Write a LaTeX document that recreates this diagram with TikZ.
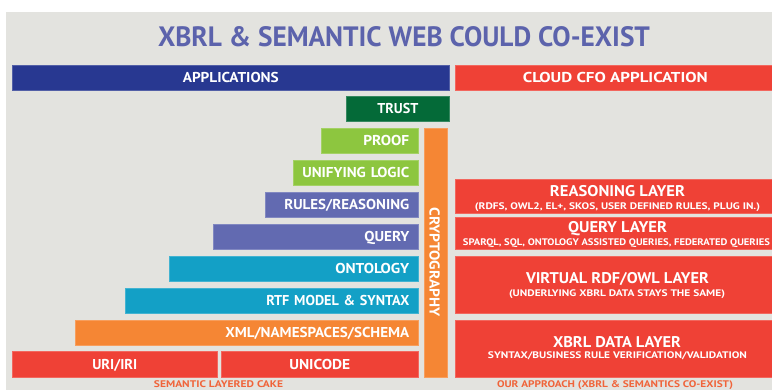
\documentclass[tikz,border=0pt]{standalone}
\usepackage{fontspec}
\usepackage{graphicx}
\setmainfont{PT Sans}
\newfontfamily\lblfont{PT Sans Bold}
\definecolor{bgc}{HTML}{E3E3DF}
\definecolor{ttlc}{HTML}{5C63AC}
\definecolor{navy}{HTML}{283891}
\definecolor{redc}{HTML}{EF4136}
\definecolor{dgreen}{HTML}{046A38}
\definecolor{lgreen}{HTML}{8DC63F}
\definecolor{purp}{HTML}{626AB1}
\definecolor{cyanc}{HTML}{13A0C6}
\definecolor{orng}{HTML}{F58634}
\definecolor{capc}{HTML}{F0643A}
\newcommand\fw[2]{\resizebox{#1}{\height}{#2}}
\begin{document}
\begin{tikzpicture}[x=1pt,y=-1pt,
  lay/.style={fill=#1, draw=#1!80!white, line width=0.6pt, text=white,
    font={\lblfont\fontsize{14.3}{16}\selectfont}, inner sep=0pt,
    text height=10pt, text depth=0pt,
    anchor=north west, minimum height=25pt},
  rl/.style={inner xsep=9pt, align=right, text width=#1},
  rtitle/.style={text=white, font={\lblfont\fontsize{15.5}{17}\selectfont}, inner sep=0pt,
    text height=11pt, text depth=0pt},
  rsub/.style={text=white, font={\lblfont\fontsize{9.5}{11}\selectfont}, inner sep=0pt,
    text height=6.7pt, text depth=0pt},
  capt/.style={text=capc, font={\lblfont\fontsize{9.6}{11}\selectfont}, inner sep=0pt,
    text height=6.8pt, text depth=0pt}
]
\useasboundingbox (0,0) rectangle (772,390);
\fill[white] (0,0) rectangle (772,390);
\fill[bgc] (6,12) rectangle (772,390);
\node[text=ttlc, font={\lblfont\fontsize{28}{30}\selectfont}, inner sep=0pt,
  text height=20pt, text depth=0pt] (title) at (404,37) {\fw{492pt}{XBRL \& SEMANTIC WEB COULD CO-EXIST}};
% left stack
\node[lay=navy, minimum width=437pt] (app) at (12,65) {\fw{96pt}{APPLICATIONS}};
\node[lay=redc, minimum width=320pt] (cfo) at (455,65) {\fw{185pt}{CLOUD CFO APPLICATION}};
\node[lay=dgreen, minimum width=103pt] (trust) at (346,96) {\fw{41pt}{TRUST}};
\node[lay=lgreen, rl=79pt] (proof) at (321,128) {\fw{46pt}{PROOF}};
\node[lay=lgreen, rl=107pt] (logic) at (293,160) {\fw{107pt}{UNIFYING LOGIC}};
\node[lay=purp, rl=135pt] (rules) at (265,192) {\fw{125pt}{RULES/REASONING}};
\node[lay=purp, rl=187pt] (query) at (213,224) {\fw{45pt}{QUERY}};
\node[lay=cyanc, rl=231pt] (onto) at (169,256) {\fw{74pt}{ONTOLOGY}};
\node[lay=cyanc, rl=275pt] (rtf) at (125,288) {\fw{143pt}{RTF MODEL \& SYNTAX}};
\node[lay=orng, rl=325pt] (xml) at (75,320) {\fw{184pt}{XML/NAMESPACES/SCHEMA}};
\node[lay=redc, minimum width=205pt, minimum height=26pt] (uri) at (12,351) {\fw{45pt}{URI/IRI}};
\node[lay=redc, minimum width=197pt, minimum height=26pt] (unicode) at (221,351) {\fw{61pt}{UNICODE}};
\node[lay=orng, minimum width=23pt, minimum height=249pt] (crypt) at (424,128) {};
\node[text=white, font={\lblfont\fontsize{14.3}{16}\selectfont}, inner sep=0pt,
  text height=10pt, text depth=0pt, rotate=-90] (cryptlbl) at (434.5,262) {\fw{109pt}{CRYPTOGRAPHY}};
\node[capt] (cake) at (218.5,384) {\fw{129pt}{SEMANTIC LAYERED CAKE}};
% right stack
\node[lay=redc, minimum width=320pt, minimum height=34pt] (reas) at (455,179) {};
\node[rtitle] (reast) at (617.5,191) {\fw{135pt}{REASONING LAYER}};
\node[rsub] (reass) at (617.5,205.7) {\fw{285pt}{(RDFS, OWL2, EL+, SKOS, USER DEFINED RULES, PLUG IN.)}};
\node[lay=redc, minimum width=320pt, minimum height=32pt] (ql) at (455,217) {};
\node[rtitle] (qlt) at (617.5,227.5) {\fw{99pt}{QUERY LAYER}};
\node[rsub] (qls) at (616.5,241.7) {\fw{307pt}{SPARQL, SQL, ONTOLOGY ASSISTED QUERIES, FEDERATED QUERIES}};
\node[lay=redc, minimum width=320pt, minimum height=57pt] (virt) at (455,256) {};
\node[rtitle] (virtt) at (617.5,277.8) {\fw{183pt}{VIRTUAL RDF/OWL LAYER}};
\node[rsub] (virts) at (617,293.3) {\fw{216pt}{(UNDERLYING XBRL DATA STAYS THE SAME)}};
\node[lay=redc, minimum width=320pt, minimum height=57pt] (xbrl) at (455,320) {};
\node[rtitle] (xbrlt) at (617,341.8) {\fw{128pt}{XBRL DATA LAYER}};
\node[rsub] (xbrls) at (617.5,354.7) {\fw{259pt}{SYNTAX/BUSINESS RULE VERIFICATION/VALIDATION}};
\node[capt] (ours) at (615,384) {\fw{236pt}{OUR APPROACH (XBRL \& SEMANTICS CO-EXIST)}};
\end{tikzpicture}
\end{document}
